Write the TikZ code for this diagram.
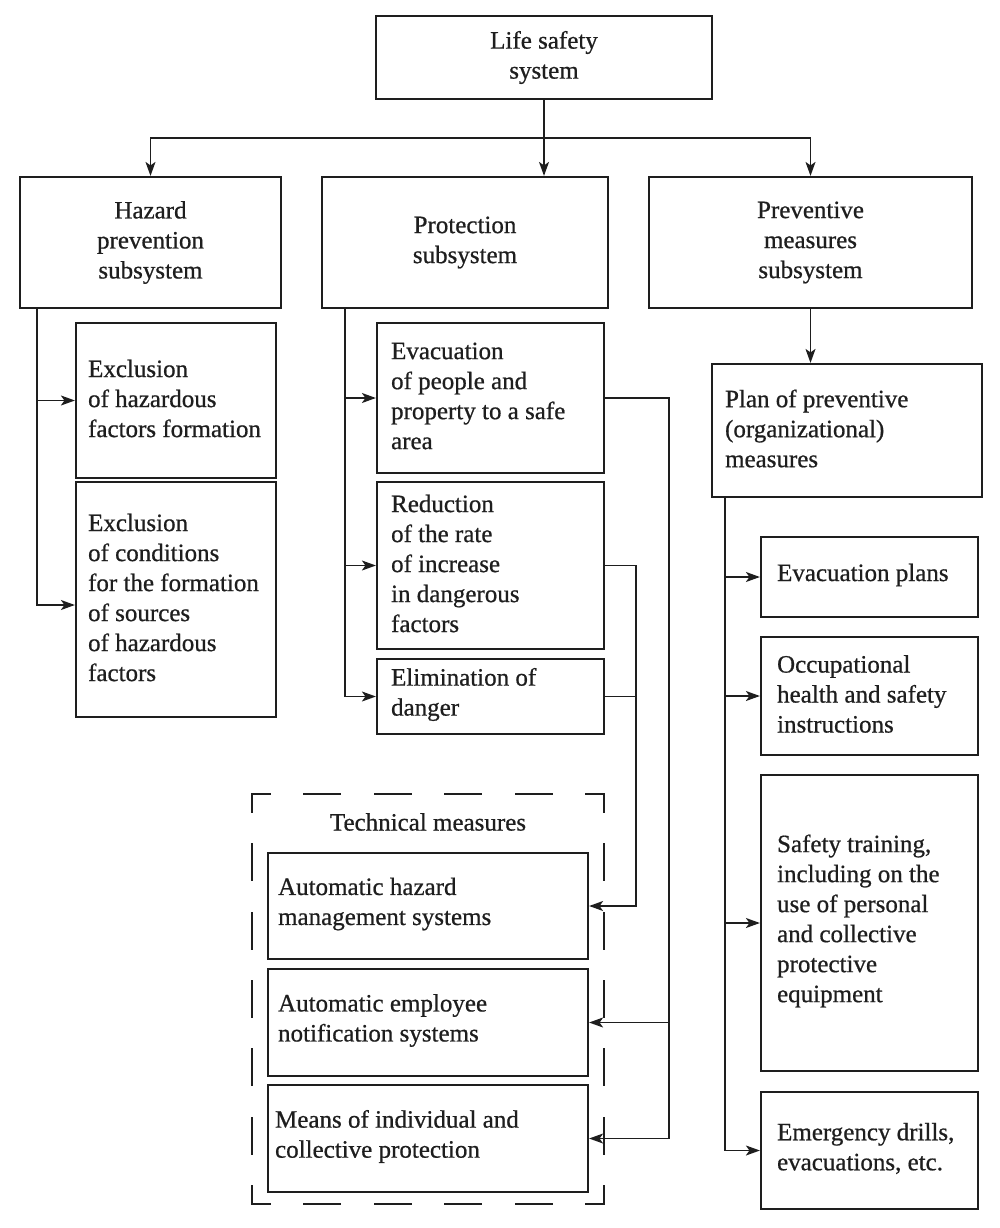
\documentclass[tikz,border=0pt]{standalone}
\usepackage{fontspec}
\setmainfont{Liberation Serif}[RawFeature={embolden=0.7}]
\usetikzlibrary{arrows.meta}
\definecolor{ink}{RGB}{30,30,30}
\begin{document}
\begin{tikzpicture}[x=1pt,y=-1pt,
  box/.style={draw=ink, line width=2.2pt, rectangle, inner sep=0pt},
  sz/.style 2 args={minimum width=#1pt, minimum height=#2pt},
  txt/.style={font=\fontsize{25}{30}\selectfont, text=ink, inner sep=0pt, align=left, anchor=west},
  ctxt/.style={font=\fontsize{25}{30}\selectfont, text=ink, align=center},
  conn/.style={draw=ink, line width=1.5pt},
  arr/.style={conn, -{Stealth[length=14pt,width=10pt,inset=3.5pt]}},
  dsh/.style={draw=ink, line width=2pt, line cap=rect},
]
\useasboundingbox (0,0) rectangle (1000,1228);

% top level
\node[box, sz={336}{83}, ctxt] (life) at (544,57.5) {Life safety\\system};
\node[box, sz={261}{131}, ctxt] (hazard) at (150.5,242.5) {Hazard\\prevention\\subsystem};
\node[box, sz={286}{131}, ctxt] (prot) at (465,242.5) {Protection\\subsystem};
\node[box, sz={323}{131}, ctxt] (prev) at (810.5,242.5) {Preventive\\measures\\subsystem};

% hazard column
\node[box, sz={200}{155}] (excl1) at (176,400.5) {};
\node[txt] (excl1t) at ([xshift=13pt,yshift=2pt]excl1.west) {Exclusion\\of hazardous\\factors formation};
\node[box, sz={200}{235}] (excl2) at (176,599.5) {};
\node[txt] (excl2t) at ([xshift=13pt,yshift=2pt]excl2.west) {Exclusion\\of conditions\\for the formation\\of sources\\of hazardous\\factors};

% protection column
\node[box, sz={227}{150}] (evac) at (490.5,398) {};
\node[txt] (evact) at ([xshift=15pt,yshift=2pt]evac.west) {Evacuation\\of people and\\property to a safe\\area};
\node[box, sz={227}{167}] (red) at (490.5,565.5) {};
\node[txt] (redt) at ([xshift=15pt,yshift=2pt]red.west) {Reduction\\of the rate\\of increase\\in dangerous\\factors};
\node[box, sz={227}{75}] (elim) at (490.5,696.5) {};
\node[txt] (elimt) at ([xshift=15pt,yshift=2pt]elim.west) {Elimination of\\danger};

% technical measures
\draw[dsh, dash pattern=on 36pt off 34.4pt, dash phase=18pt] (252,794) -- (604,794);
\draw[dsh, dash pattern=on 36pt off 34.4pt, dash phase=18pt] (252,1204) -- (604,1204);
\draw[dsh, dash pattern=on 36pt off 32.33pt, dash phase=18pt] (252,794) -- (252,1204);
\draw[dsh, dash pattern=on 36pt off 32.33pt, dash phase=18pt] (604,794) -- (604,1204);
\node[ctxt, inner sep=0pt] (techlabel) at (428,822) {Technical measures};
\node[box, sz={320}{106}] (auto1) at (428,906) {};
\node[txt] (auto1t) at ([xshift=11pt,yshift=2pt]auto1.west) {Automatic hazard\\management systems};
\node[box, sz={320}{107}] (auto2) at (428,1022.5) {};
\node[txt] (auto2t) at ([xshift=11pt,yshift=2pt]auto2.west) {Automatic employee\\notification systems};
\node[box, sz={320}{107}] (means) at (428,1138.5) {};
\node[txt] (meanst) at ([xshift=8pt,yshift=2pt]means.west) {Means of individual and\\collective protection};

% preventive column
\node[box, sz={270}{133}] (plan) at (847,430.5) {};
\node[txt] (plant) at ([xshift=14pt,yshift=2pt]plan.west) {Plan of preventive\\(organizational)\\measures};
\node[box, sz={217}{80}] (eplans) at (869.5,577) {};
\node[txt] (eplanst) at ([xshift=17pt,yshift=2pt]eplans.west) {Evacuation plans};
\node[box, sz={217}{118}] (occ) at (869.5,696) {};
\node[txt] (occt) at ([xshift=17pt,yshift=2pt]occ.west) {Occupational\\health and safety\\instructions};
\node[box, sz={217}{296}] (train) at (869.5,923) {};
\node[txt] (traint) at ([xshift=17pt,yshift=2pt]train.west) {Safety training,\\including on the\\use of personal\\and collective\\protective\\equipment};
\node[box, sz={217}{117}] (drill) at (869.5,1150.5) {};
\node[txt] (drillt) at ([xshift=17pt,yshift=2pt]drill.west) {Emergency drills,\\evacuations, etc.};

% connectors: top
\coordinate (hbar) at (544,138);
\draw[conn] (life.south) -- (hbar);
\draw[arr] (hbar) -| (hazard.north);
\draw[arr] (hbar) -- (hbar |- prot.north);
\draw[arr] (hbar) -| (prev.north);

% hazard branch
\coordinate (hzA) at ([xshift=18pt]hazard.south west);
\draw[arr] (hzA) |- (excl1.west);
\draw[arr] (hzA) |- ([yshift=-5.5pt]excl2.west);

% protection branch
\coordinate (pA) at ([xshift=24pt]prot.south west);
\draw[arr] (pA) |- (evac.west);
\draw[arr] (pA) |- (red.west);
\draw[arr] (pA) |- (elim.west);

% to technical measures
\coordinate (busR) at (669,398);
\coordinate (busL) at (636,565.5);
\draw[arr] (evac.east) -- (busR) |- (means.east);
\draw[arr] (auto2.east -| busR) -- (auto2.east);
\draw[arr] (red.east) -- (busL) |- (auto1.east);
\draw[conn] (elim.east) -- (elim.east -| busL);

% preventive branch
\draw[arr] (prev.south) -- (prev.south |- plan.north);
\coordinate (plA) at ([xshift=14pt]plan.south west);
\draw[arr] (plA) |- (eplans.west);
\draw[arr] (plA) |- (occ.west);
\draw[arr] (plA) |- (train.west);
\draw[arr] (plA) |- (drill.west);
\end{tikzpicture}
\end{document}
